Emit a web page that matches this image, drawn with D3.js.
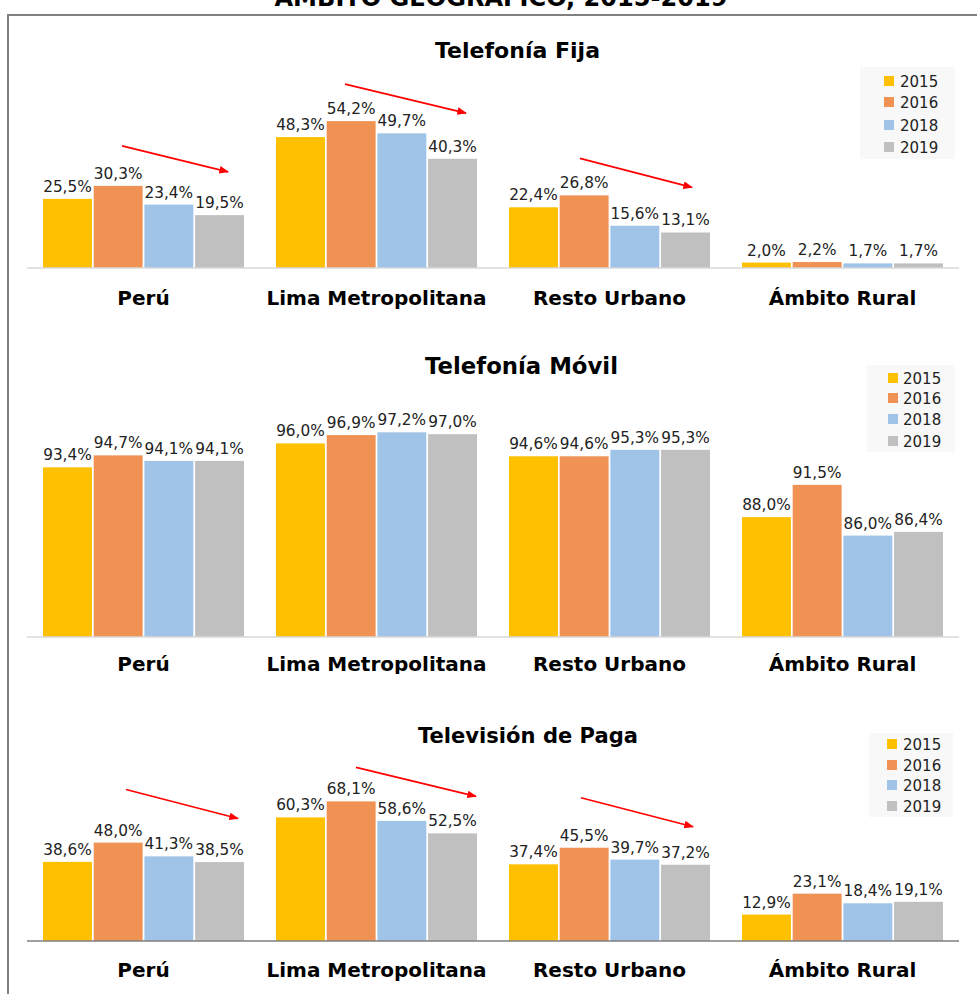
<!DOCTYPE html>
<html>
<head>
<meta charset="utf-8">
<script src="https://cdn.jsdelivr.net/npm/d3@7"></script>
<style>
  html, body { margin: 0; padding: 0; background: #fff; }
  svg { display: block; }
</style>
</head>
<body>
<svg id="chart" width="977" height="994"></svg>
<script>
// ---------- DATA ----------
const categories = ["Perú", "Lima Metropolitana", "Resto Urbano", "Ámbito Rural"];
const years = ["2015", "2016", "2018", "2019"];
const mainTitle = "ÁMBITO GEOGRÁFICO, 2015-2019";
const panelTitles = ["Telefonía Fija", "Telefonía Móvil", "Televisión de Paga"];

const telefoniaFija = [
  [25.5, 30.3, 23.4, 19.5],
  [48.3, 54.2, 49.7, 40.3],
  [22.4, 26.8, 15.6, 13.1],
  [2.0, 2.2, 1.7, 1.7]
];
const telefoniaMovil = [
  [93.4, 94.7, 94.1, 94.1],
  [96.0, 96.9, 97.2, 97.0],
  [94.6, 94.6, 95.3, 95.3],
  [88.0, 91.5, 86.0, 86.4]
];
const televisionPaga = [
  [38.6, 48.0, 41.3, 38.5],
  [60.3, 68.1, 58.6, 52.5],
  [37.4, 45.5, 39.7, 37.2],
  [12.9, 23.1, 18.4, 19.1]
];
// categories with a downward-trend arrow, per panel
const trendArrows = [
  ["Perú", "Lima Metropolitana", "Resto Urbano"],
  [],
  ["Perú", "Lima Metropolitana", "Resto Urbano"]
];

// ---------- LAYOUT / STYLE ----------
const colors = ["#FFC000", "#F09253", "#9FC4E7", "#C0C0C0"];
const svg = d3.select("#chart");

const defs = svg.append("defs");
defs.append("marker")
  .attr("id", "arrowhead")
  .attr("viewBox", "0 0 10 10")
  .attr("refX", 9).attr("refY", 5)
  .attr("markerWidth", 6).attr("markerHeight", 6)
  .attr("orient", "auto")
  .append("path").attr("d", "M0,1 L10,5 L0,9 Z").attr("fill", "#FF0000");

// frame
svg.append("path")
  .attr("d", "M8,994 L8,15 L977,15")
  .attr("fill", "none").attr("stroke", "#808080").attr("stroke-width", 2);

// main title (cut off at top, as in the original)
svg.append("text")
  .attr("x", 501).attr("y", 6)
  .attr("text-anchor", "middle")
  .attr("font-family", "DejaVu Sans").attr("font-weight", "bold")
  .attr("font-size", 24)
  .attr("textLength", 453).attr("lengthAdjust", "spacingAndGlyphs")
  .attr("fill", "#000")
  .text(mainTitle);

const x0 = d3.scaleBand().domain(categories).range([27, 959])
  .paddingInner(0.1373).paddingOuter(0.0687);
const x1 = d3.scaleBand().domain(years).range([0, x0.bandwidth()]).paddingInner(0.035);

const panels = [
  { data: telefoniaFija, domain: [0, 60], base: 268, top: 105.4, titleX: 517.5, titleY: 58, titleSize: 21, titleLen: 165,
    catY: 305, axisColor: "#D9D9D9", legend: { x: 860, y: 67, w: 95, h: 92, sqX: 884, txtX: 900, rows: [81, 102, 125, 147] },
    arrowOff: [[79, 185, 40, 14], [69, 190, 37, 8], [71, 183, 37, 8]], clip: null },
  { data: telefoniaMovil, domain: [75, 100], base: 637, top: 406.5, titleX: 521.5, titleY: 374, titleSize: 22.5, titleLen: 193,
    catY: 671, axisColor: "#D9D9D9", legend: { x: 867, y: 365, w: 88, h: 87, sqX: 888, txtX: 903, rows: [378, 398, 419, 441] },
    arrowOff: [], clip: 674 },
  { data: televisionPaga, domain: [0, 80], base: 941, top: 777, titleX: 528, titleY: 743, titleSize: 21, titleLen: 220,
    catY: 977, axisColor: "#7F7F7F", legend: { x: 869, y: 733, w: 84, h: 84, sqX: 887, txtX: 903, rows: [744, 765, 785, 806] },
    arrowOff: [[83, 195, 53, 24], [80, 200, 34, 5], [72, 184, 50, 21]], clip: null }
];

panels.forEach((p, pi) => {
  const g = svg.append("g");
  const y = d3.scaleLinear().domain(p.domain).range([p.base, p.top]);

  // title
  g.append("text")
    .attr("x", p.titleX).attr("y", p.titleY)
    .attr("text-anchor", "middle")
    .attr("font-family", "DejaVu Sans").attr("font-weight", "bold")
    .attr("font-size", p.titleSize)
    .attr("textLength", p.titleLen).attr("lengthAdjust", "spacingAndGlyphs")
    .attr("fill", "#000")
    .text(panelTitles[pi]);

  // bars
  const groups = g.selectAll("g.cat").data(categories).join("g")
    .attr("class", "cat")
    .attr("transform", c => `translate(${x0(c)},0)`);

  groups.each(function (c, ci) {
    const vals = p.data[ci];
    const gg = d3.select(this);
    gg.selectAll("rect").data(vals).join("rect")
      .attr("x", (v, i) => x1(years[i]))
      .attr("width", x1.bandwidth())
      .attr("y", v => y(v))
      .attr("height", v => p.base - y(v))
      .attr("fill", (v, i) => colors[i]);
    gg.selectAll("text").data(vals).join("text")
      .attr("x", (v, i) => x1(years[i]) + x1.bandwidth() / 2)
      .attr("y", v => y(v) - 7)
      .attr("text-anchor", "middle")
      .attr("font-family", "DejaVu Sans").attr("font-size", 15.3)
      .attr("fill", "#222")
      .text(v => d3.format(".1f")(v).replace(".", ",") + "%");
  });

  // axis
  const axis = g.append("g").attr("transform", `translate(0,${p.base})`)
    .call(d3.axisBottom(x0).tickSize(0).tickPadding(0).tickFormat(""));
  axis.select(".domain").attr("stroke", p.axisColor).attr("stroke-width", 1.5)
    .attr("d", `M${x0.range()[0]},0H${x0.range()[1]}`);

  // category labels
  let labelG = g.append("g");
  if (p.clip) {
    defs.append("clipPath").attr("id", "clip" + pi)
      .append("rect").attr("x", 0).attr("y", p.base).attr("width", 977).attr("height", p.clip - p.base);
    labelG.attr("clip-path", `url(#clip${pi})`);
  }
  labelG.selectAll("text").data(categories).join("text")
    .attr("x", c => x0(c) + x0.bandwidth() / 2)
    .attr("y", p.catY)
    .attr("text-anchor", "middle")
    .attr("font-family", "DejaVu Sans").attr("font-weight", "bold")
    .attr("font-size", 20).attr("fill", "#000")
    .text(c => c);

  // legend
  const L = p.legend;
  const lg = g.append("g");
  lg.append("rect").attr("x", L.x).attr("y", L.y).attr("width", L.w).attr("height", L.h).attr("fill", "#F8F8F8");
  years.forEach((yr, i) => {
    lg.append("rect").attr("x", L.sqX).attr("y", L.rows[i] - 5).attr("width", 10).attr("height", 10).attr("fill", colors[i]);
    lg.append("text").attr("x", L.txtX).attr("y", L.rows[i] + 5.5)
      .attr("font-family", "DejaVu Sans").attr("font-size", 15).attr("fill", "#222").text(yr);
  });

  // trend arrows
  trendArrows[pi].forEach((c, ai) => {
    const ci = categories.indexOf(c);
    const maxV = d3.max(p.data[ci]);
    const off = p.arrowOff[ai];
    g.append("line")
      .attr("x1", x0(c) + off[0]).attr("y1", y(maxV) - off[2])
      .attr("x2", x0(c) + off[1]).attr("y2", y(maxV) - off[3])
      .attr("stroke", "#FF0000").attr("stroke-width", 1.6)
      .attr("marker-end", "url(#arrowhead)");
  });
});
</script>
</body>
</html>
